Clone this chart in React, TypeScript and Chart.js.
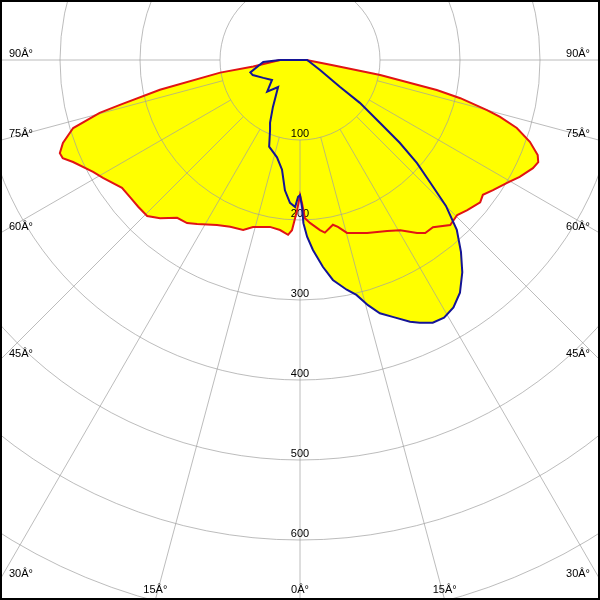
import React, { useEffect, useRef } from "react";
import { Chart, registerables } from "chart.js";

Chart.register(...registerables);

// Plane C0-C180 (red): gamma angle in degrees (0 = nadir, + to the right), intensity
const redAngles = [-90, -82, -81, -78, -76, -75.2, -73.3, -70.7, -68.8, -67.5, -65.8, -61.6, -59.1, -54.3, -51.1, -47.8, -44.4, -41.5, -37.9, -34.7, -32.1, -26.7, -22.7, -18.5, -15.7, -10.2, -6.7, -3.9, -2.7, -1.1, 0, 0.8, 1.8, 3.5, 6.7, 8.2, 10.1, 11.3, 12.8, 15.2, 21.2, 27, 30.5, 34.1, 35.9, 38.5, 42.3, 45.4, 48.1, 51.7, 53.6, 56, 59.3, 62, 65.1, 66.8, 68.2, 70.4, 72.6, 74.1, 75, 76.6, 77.6, 79.4, 81, 90];
const redValues = [25, 59, 101, 179, 232, 259, 296, 314, 322, 321, 311, 294, 287, 274, 273, 273, 273, 264, 250, 248, 242, 231, 226, 224, 217, 212, 214, 219, 213, 188, 169, 179, 198, 204, 214, 218, 213, 210, 214, 224, 232, 240, 247, 261, 267, 267, 279, 276, 281, 287, 284, 291, 301, 311, 321, 324, 320, 305, 284, 260, 242, 206, 175, 102, 40, 8];

// Plane C90-C270 (blue)
const blueAngles = [-90, -87, -76, -72.3, -64, -54.5, -46, -39, -29.9, -25.5, -23.2, -19.6, -13.3, -9.3, -6.6, -4, -1.9, -0.8, 0, 0.8, 1.2, 2.3, 3.9, 6.3, 8.5, 11.5, 13.5, 15.5, 17.5, 20, 22.8, 24.5, 26.8, 29.2, 31.8, 34.5, 37.4, 40, 42.7, 45, 46.6, 48.6, 50.3, 51.8, 54.4, 56, 63.4, 90];
const blueValues = [25, 46, 64, 62, 51, 43, 57, 43.5, 68, 87, 95, 115, 125, 139, 164, 179, 184, 171, 169, 184, 204, 221, 238, 260, 278, 293, 302, 318, 332, 342, 355, 361, 368, 369, 364, 353, 334, 313, 289, 258, 226, 195, 162, 127, 92, 60, 28, 9];

// Grid
const ringValues = [100, 200, 300, 400, 500, 600, 700, 800];
const ringLabels = ["100", "200", "300", "400", "500", "600", "700", "800"];
const spokeAngles = [-90, -75, -60, -45, -30, -15, 0, 15, 30, 45, 60, 75, 90];
const spokeLabels = ["90Â°", "75Â°", "60Â°", "45Â°", "30Â°", "15Â°", "0Â°", "15Â°", "30Â°", "45Â°", "60Â°", "75Â°", "90Â°"];

const GRID_COLOR = "rgba(160,160,160,0.7)";
const FONT = '11px "Liberation Sans", Arial, sans-serif';

function toXY(angles: number[], values: number[]) {
  const pts = angles.map((a, i) => ({
    x: values[i] * Math.sin((a * Math.PI) / 180),
    y: -values[i] * Math.cos((a * Math.PI) / 180),
  }));
  pts.push({ ...pts[0] });
  return pts;
}

const polarGrid = {
  id: "polarGrid",
  beforeDatasetsDraw(chart: any) {
    const { ctx, chartArea, scales } = chart;
    const xs = scales.x;
    const ys = scales.y;
    const cx = xs.getPixelForValue(0);
    const cy = ys.getPixelForValue(0);
    const { left, right, top, bottom } = chartArea;
    ctx.save();
    ctx.beginPath();
    ctx.rect(left, top, right - left, bottom - top);
    ctx.clip();
    ctx.strokeStyle = GRID_COLOR;
    ctx.lineWidth = 1;
    for (const r of ringValues) {
      const rp = xs.getPixelForValue(r) - cx;
      ctx.beginPath();
      ctx.arc(cx, cy, rp, 0, Math.PI * 2);
      ctx.stroke();
    }
    const r0 = xs.getPixelForValue(ringValues[0]) - cx;
    const r1 = 3000;
    for (const a of spokeAngles) {
      const s = Math.sin((a * Math.PI) / 180);
      const c = Math.cos((a * Math.PI) / 180);
      ctx.beginPath();
      ctx.moveTo(cx + r0 * s, cy + r0 * c);
      ctx.lineTo(cx + r1 * s, cy + r1 * c);
      ctx.stroke();
    }
    ctx.fillStyle = "#000";
    ctx.font = FONT;
    ctx.textBaseline = "alphabetic";
    ctx.textAlign = "center";
    ringValues.forEach((r, i) => {
      ctx.fillText(ringLabels[i], cx, ys.getPixelForValue(-r) - 3);
    });
    spokeAngles.forEach((a, i) => {
      const s = Math.sin((a * Math.PI) / 180);
      const c = Math.cos((a * Math.PI) / 180);
      const tx = s > 1e-9 ? (right - cx) / s : s < -1e-9 ? (left - cx) / s : Infinity;
      const ty = c > 1e-9 ? (bottom - cy) / c : Infinity;
      if (tx < ty) {
        const yh = cy + tx * c;
        if (s < 0) {
          ctx.textAlign = "left";
          ctx.fillText(spokeLabels[i], left + 9, yh - 3);
        } else {
          ctx.textAlign = "right";
          ctx.fillText(spokeLabels[i], right - 10, yh - 3);
        }
      } else {
        const xh = cx + ty * s;
        ctx.textAlign = "center";
        ctx.fillText(spokeLabels[i], xh, bottom - 7);
      }
    });
    ctx.restore();
  },
  afterDraw(chart: any) {
    const { ctx, width, height } = chart;
    ctx.save();
    ctx.strokeStyle = "#000";
    ctx.lineWidth = 2;
    ctx.strokeRect(1, 1, width - 2, height - 2);
    ctx.restore();
  },
};

export default function App() {
  const ref = useRef<HTMLCanvasElement | null>(null);
  useEffect(() => {
    if (!ref.current) return;
    const chart = new Chart(ref.current, {
      type: "scatter",
      data: {
        datasets: [
          {
            label: "C90-C270",
            data: toXY(blueAngles, blueValues),
            showLine: true,
            borderColor: "rgb(20,20,150)",
            borderWidth: 2,
            backgroundColor: "#ffff00",
            fill: "shape",
            pointRadius: 0,
            tension: 0,
          },
          {
            label: "C0-C180",
            data: toXY(redAngles, redValues),
            showLine: true,
            borderColor: "rgb(225,20,20)",
            borderWidth: 2,
            backgroundColor: "#ffff00",
            fill: "shape",
            pointRadius: 0,
            tension: 0,
          },
        ],
      },
      options: {
        responsive: false,
        animation: false,
        events: [],
        layout: { padding: 0 },
        scales: {
          x: { type: "linear", min: -375, max: 375, display: false },
          y: { type: "linear", min: -675, max: 75, display: false },
        },
        plugins: {
          legend: { display: false },
          tooltip: { enabled: false },
          filler: { drawTime: "beforeDraw" },
        },
      } as any,
      plugins: [polarGrid],
    });
    return () => chart.destroy();
  }, []);
  return (
    <div style={{ position: "fixed", left: 0, top: 0, width: 600, height: 600, background: "#fff" }}>
      <canvas ref={ref} width={600} height={600} style={{ display: "block" }} />
    </div>
  );
}
